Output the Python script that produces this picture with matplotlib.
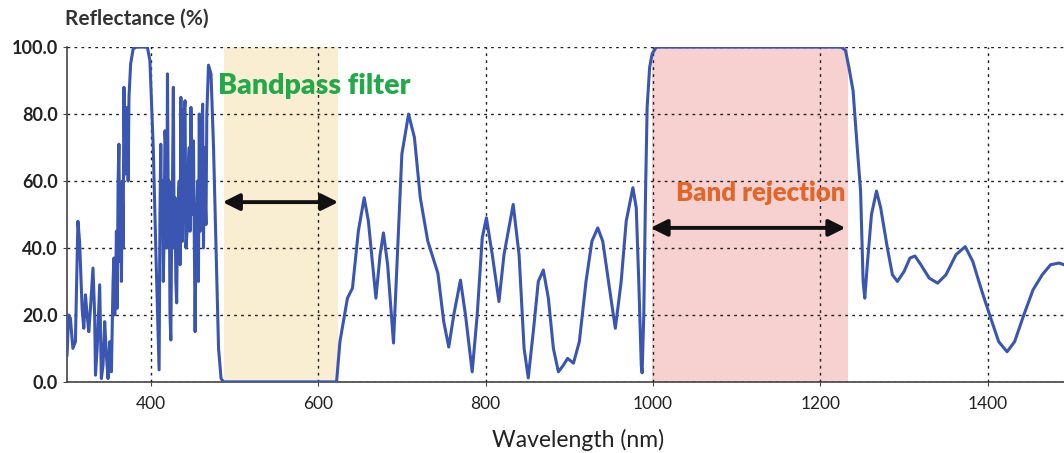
import matplotlib
matplotlib.use("Agg")
import matplotlib.pyplot as plt

plt.rcParams['font.family'] = ['Lato', 'DejaVu Sans']

# ---- data ----
wavelength = [300, 302, 304, 307, 310, 313, 315, 318, 320, 322, 324, 326, 328, 331, 333, 334, 336, 339,
              341, 343, 345, 347, 349, 351, 353, 355, 356, 357, 358, 359, 360, 361, 362, 363, 364, 365,
              366, 367, 368, 369, 370, 371, 372, 373, 374, 376,
              379, 383, 396, 399, 403, 406, 410, 411, 412, 413, 414, 415, 416, 417, 418, 419, 420, 421,
              422, 423, 424, 425, 426, 427, 428, 429, 430, 431, 432, 434, 435, 436, 437, 438, 439, 441,
              442, 444, 445, 446, 447, 448, 449, 450, 451, 453, 454, 456, 457, 458, 459, 460, 461, 462,
              463, 464, 465, 466, 467, 469, 472, 475, 478, 481, 484, 487,
              622, 626, 635, 641, 648, 655, 660, 669, 674, 678, 683, 690, 695, 700, 708, 715, 722, 731,
              743, 750, 756, 762, 770, 776, 784, 790, 796, 801, 808, 816, 822, 833, 840, 846, 851, 857,
              863, 869, 875, 881, 887, 893, 898, 905, 912, 920, 927, 934, 940, 948, 955, 962, 968, 976,
              980, 983, 986, 987, 989, 991, 993, 996, 999, 1004, 1225, 1230, 1234, 1239, 1244, 1248,
              1251, 1253, 1256, 1261, 1267, 1272, 1280, 1286, 1292, 1300, 1307, 1313, 1320, 1330, 1340,
              1350, 1362, 1373, 1382, 1393, 1403, 1413, 1423, 1432, 1443, 1454, 1465, 1475, 1485, 1491]
reflectance = [8, 20, 19, 10, 12, 48, 42, 22, 16, 26, 20, 15, 22, 34, 20, 2, 10, 29,
               1, 5, 18, 8, 1, 12, 3, 30, 37, 20, 28, 45, 22, 60, 71, 36, 55, 30,
               60, 40, 88, 62, 70, 64, 82, 60, 85, 95,
               99.5, 100, 100, 96, 70, 40, 3.6, 50, 71, 45, 60, 30, 44, 75, 70, 40, 92, 50,
               60, 20, 12.5, 45, 60, 88, 40, 55, 30, 23.6, 50, 60, 35, 85, 50, 42, 78, 84,
               40, 47, 65, 70, 45, 82, 60, 50, 72, 15, 40, 60, 30, 80, 45, 55, 75, 83,
               40, 70, 55, 47, 80, 94.6, 92, 70, 40, 10, 1, 0,
               0, 12, 25, 28, 45, 55, 48, 25, 38, 44.5, 35, 11.6, 40, 68, 80, 73, 55, 42,
               32.5, 18, 10.4, 20, 30.4, 20, 3, 20, 43, 49, 38, 24, 38, 53, 38, 10, 1.2, 15,
               30, 33.4, 25, 10, 3, 5, 7, 5.6, 12, 30, 42, 46, 42, 28, 16, 30, 48, 58,
               52, 30, 5, 2.7, 20, 55, 82, 94, 98, 100, 100, 99, 94, 87, 70, 57,
               30, 25, 35, 50, 57, 52, 40, 32, 30, 33, 37, 37.6, 35, 31, 29.5,
               32, 38, 40.4, 36, 27, 19.4, 12, 9, 12, 20, 27.5, 32, 35, 35.5, 35]

bandpass = (487, 624)
rejection = (999, 1233)
x_ticks = [400, 600, 800, 1000, 1200, 1400]
y_ticks = [0, 20, 40, 60, 80, 100]

fig = plt.figure(figsize=(10.64, 4.53), dpi=100)
ax = fig.add_axes([0.063, 0.157, 0.937, 0.739])

ax.axvspan(*bandpass, color='#f9edd2', zorder=0, lw=0)
ax.axvspan(*rejection, color='#f7d0d0', zorder=0, lw=0)

ax.plot(wavelength, reflectance, color='#3a56b0', lw=2.2, zorder=3)

ax.set_xlim(300, 1491)
ax.set_ylim(0, 100)
ax.set_xticks(x_ticks)
ax.set_yticks(y_ticks)
ax.set_yticklabels([f"{v:.1f}" for v in y_ticks])
ax.grid(True, color='#222222', linestyle=(0, (2, 3)), linewidth=1.0, zorder=1)
ax.set_axisbelow(False)
for side in ['top', 'right']:
    ax.spines[side].set_visible(False)
for side in ['left', 'bottom']:
    ax.spines[side].set_color('#444444')
    ax.spines[side].set_linewidth(1.2)
ax.tick_params(axis='both', length=3, color='#444444', labelcolor='#222222')
ax.tick_params(axis='x', pad=7, labelsize=12.5)
ax.tick_params(axis='y', labelsize=13)
for lab in ax.get_yticklabels():
    lab.set_fontweight('bold')

# arrows
ax.annotate('', xy=(bandpass[0] - 1, 53.7), xytext=(bandpass[1], 53.7),
            arrowprops=dict(arrowstyle='<|-|>', color='#111111', lw=2.8, mutation_scale=25,
                            shrinkA=0, shrinkB=0), zorder=4)
ax.annotate('', xy=(rejection[0] - 2, 46), xytext=(rejection[1] - 3, 46),
            arrowprops=dict(arrowstyle='<|-|>', color='#111111', lw=2.8, mutation_scale=25,
                            shrinkA=0, shrinkB=0), zorder=4)

ax.text(480, 88.5, 'Bandpass filter', color='#22a94a', fontsize=20.5, fontweight='heavy',
        va='center', ha='left', zorder=5)
ax.text(1027, 56.5, 'Band rejection', color='#e0662a', fontsize=18.5, fontweight='heavy',
        va='center', ha='left', zorder=5)

fig.text(0.061, 0.958, 'Reflectance (%)', fontsize=15, fontweight='bold', color='#333333',
         ha='left', va='center')
fig.text(0.543, 0.028, 'Wavelength (nm)', fontsize=16.5, color='#222222', ha='center', va='center')

fig.savefig('out.png', dpi=100)
